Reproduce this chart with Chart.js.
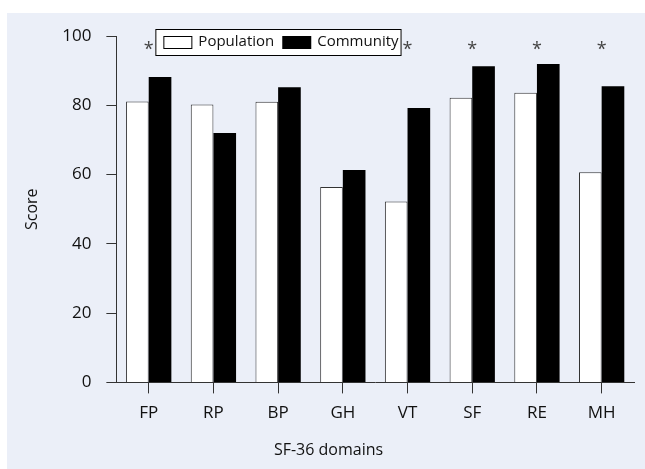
<!DOCTYPE html>
<html>
<head>
<meta charset="utf-8">
<script src="https://cdn.jsdelivr.net/npm/chart.js@4/dist/chart.umd.min.js"></script>
<style>
  html, body { margin: 0; padding: 0; background: #fff; }
  #wrap { width: 645px; height: 469px; }
</style>
</head>
<body>
<div id="wrap"><canvas id="canvas" width="645" height="469"></canvas></div>
<script>
var categories = ['FP', 'RP', 'BP', 'GH', 'VT', 'SF', 'RE', 'MH'];
var population = [81.1, 80.2, 81.0, 56.4, 52.2, 82.2, 83.6, 60.7];
var community = [88.2, 72.0, 85.2, 61.3, 79.2, 91.3, 91.9, 85.5];
// asterisk = significant difference
var significant = [true, false, false, false, true, true, true, true];
var starLevel = 97.5;
var yTicks = [0, 20, 40, 60, 80, 100];

var fontName = '"Open Sans", sans-serif';
var axisColor = '#333';

// light blue panel behind everything
var panelPlugin = {
    id: 'panel',
    beforeDraw: function(chart) {
        var ctx = chart.ctx;
        ctx.save();
        ctx.fillStyle = '#ebeff8';
        ctx.fillRect(7, 13, chart.width - 7, chart.height - 13);
        ctx.restore();
    }
};

// asterisks + boxed legend
var extrasPlugin = {
    id: 'extras',
    afterDraw: function(chart) {
        var ctx = chart.ctx;
        var x = chart.scales.x;
        var y = chart.scales.y;
        ctx.save();
        ctx.fillStyle = '#444';
        ctx.font = '18px ' + fontName;
        ctx.textAlign = 'center';
        ctx.textBaseline = 'alphabetic';
        for (var i = 0; i < categories.length; i++) {
            if (significant[i]) {
                ctx.fillText('*', x.getPixelForValue(i), y.getPixelForValue(starLevel) + 10);
            }
        }

        // legend box
        var sets = chart.data.datasets;
        ctx.font = '15px ' + fontName;
        ctx.textBaseline = 'middle';
        var left = chart.chartArea.left + 39;
        var top = chart.chartArea.top - 7;
        var h = 27;
        var sw = 29, sh = 13;
        var widths = sets.map(function(d) { return ctx.measureText(d.label).width; });
        var w = 8 + sw + 6 + widths[0] + 8 + sw + 6 + widths[1] + 3;
        ctx.fillStyle = '#fff';
        ctx.fillRect(left, top, w, h);
        ctx.strokeStyle = '#000';
        ctx.lineWidth = 1;
        ctx.strokeRect(left + 0.5, top + 0.5, w - 1, h - 1);

        var cx = left + 8;
        var cy = top + h / 2;
        for (var k = 0; k < sets.length; k++) {
            ctx.fillStyle = sets[k].backgroundColor;
            ctx.fillRect(cx, cy - sh / 2, sw, sh);
            if (sets[k].borderWidth) {
                ctx.strokeStyle = '#000';
                ctx.strokeRect(cx + 0.5, cy - sh / 2 + 0.5, sw - 1, sh - 1);
            }
            cx += sw + 6;
            ctx.fillStyle = '#111';
            ctx.textAlign = 'left';
            ctx.fillText(sets[k].label, cx, cy - 1);
            cx += widths[k] + 8;
        }
        ctx.restore();
    }
};

var config = {
    type: 'bar',
    data: {
        labels: categories,
        datasets: [{
            label: 'Population',
            data: population,
            backgroundColor: '#ffffff',
            borderColor: '#333',
            borderWidth: 1,
            categoryPercentage: 0.7,
            barPercentage: 1.0
        }, {
            label: 'Community',
            data: community,
            backgroundColor: '#000000',
            borderWidth: 0,
            categoryPercentage: 0.7,
            barPercentage: 1.0
        }]
    },
    options: {
        responsive: false,
        animation: false,
        layout: {
            padding: { left: 23, right: 11, top: 36, bottom: 3 }
        },
        plugins: {
            legend: { display: false },
            tooltip: { enabled: false },
            title: {
                display: true,
                position: 'bottom',
                text: 'SF-36 domains',
                color: '#111',
                font: { family: fontName, size: 16, weight: 'normal' },
                padding: { top: 7, bottom: 6 }
            }
        },
        scales: {
            x: {
                grid: {
                    display: true,
                    drawOnChartArea: false,
                    offset: false,
                    color: axisColor,
                    tickLength: 11
                },
                border: { color: axisColor, width: 1 },
                ticks: {
                    color: '#111',
                    padding: 10,
                    font: { family: fontName, size: 17 }
                }
            },
            y: {
                min: 0,
                max: 100,
                afterBuildTicks: function(axis) {
                    axis.ticks = yTicks.map(function(v) { return { value: v }; });
                },
                grid: {
                    drawOnChartArea: false,
                    color: axisColor,
                    tickLength: 10
                },
                border: { color: axisColor, width: 1 },
                ticks: {
                    color: '#111',
                    padding: 15,
                    font: { family: fontName, size: 17 }
                },
                title: {
                    display: true,
                    text: 'Score',
                    color: '#111',
                    font: { family: fontName, size: 16 },
                    padding: { top: 0, bottom: 5 }
                }
            }
        }
    },
    plugins: [panelPlugin, extrasPlugin]
};

window.onload = function() {
    var ctx = document.getElementById('canvas').getContext('2d');
    window.myBar = new Chart(ctx, config);
};
</script>
</body>
</html>
